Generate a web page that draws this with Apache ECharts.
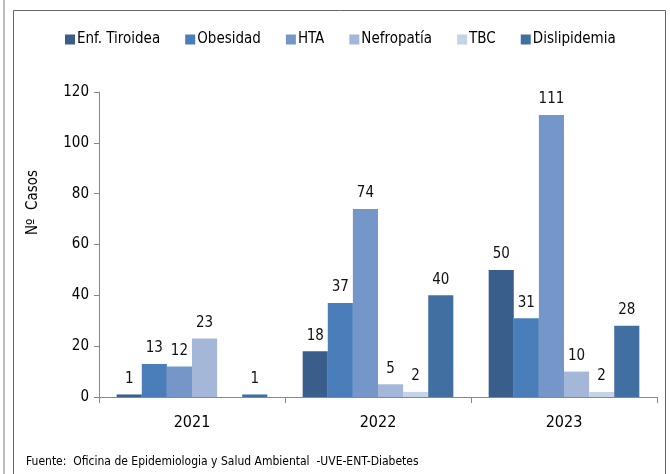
<!DOCTYPE html>
<html><head><meta charset="utf-8">
<script src="https://cdn.jsdelivr.net/npm/echarts@6/dist/echarts.min.js"></script>
<style>html,body{margin:0;padding:0;background:#fff}#c{width:670px;height:474px}</style>
</head><body><div id="c"></div>
<script>
var categories = ['2021', '2022', '2023'];
var seriesNames = ['Enf. Tiroidea', 'Obesidad', 'HTA', 'Nefropatía', 'TBC', 'Dislipidemia'];
var enfTiroidea = [1, 18, 50];
var obesidad = [13, 37, 31];
var hta = [12, 74, 111];
var nefropatia = [23, 5, 10];
var tbc = [null, 2, 2];
var dislipidemia = [1, 40, 28];
var yTicks = [0, 20, 40, 60, 80, 100, 120];
var colors = ['#3A5E8B', '#4A7EBB', '#7496C8', '#A4B7D8', '#C6D2E7', '#426FA2'];
var FONT = '"Liberation Sans Narrow", "DejaVu Sans Condensed", sans-serif';
var values = [enfTiroidea, obesidad, hta, nefropatia, tbc, dislipidemia];

var chart = echarts.init(document.getElementById('c'), null, {renderer: 'canvas'});
chart.setOption({
  animation: false,
  textStyle: {fontFamily: FONT},
  legend: {
    top: 27, left: 60,
    itemWidth: 10, itemHeight: 10, itemGap: 25,
    icon: 'rect',
    textStyle: {fontFamily: FONT, fontSize: 15, color: '#000', padding: [0, 0, 0, -3]},
    data: seriesNames
  },
  grid: {left: 99, right: 13, top: 92, bottom: 77, containLabel: false},
  xAxis: {
    type: 'category', data: categories,
    axisLine: {lineStyle: {color: '#888'}},
    axisTick: {show: true, length: 6, lineStyle: {color: '#888'}},
    axisLabel: {fontFamily: FONT, fontSize: 16, color: '#000', margin: 18}
  },
  yAxis: {
    type: 'value', min: yTicks[0], max: yTicks[yTicks.length - 1], interval: 20,
    name: 'Nº  Casos', nameLocation: 'middle', nameGap: 58, nameRotate: 90,
    nameTextStyle: {fontFamily: FONT, fontSize: 15, color: '#000', padding: [0, 0, 0, 84]},
    axisLine: {show: true, lineStyle: {color: '#888'}},
    axisTick: {show: true, length: 5, lineStyle: {color: '#888'}},
    splitLine: {show: false},
    axisLabel: {fontFamily: FONT, fontSize: 15, color: '#000', margin: 10}
  },
  series: seriesNames.map(function (n, i) {
    return {
      name: n, type: 'bar', data: values[i],
      barGap: '0%', barCategoryGap: '19%',
      itemStyle: {color: colors[i]},
      label: {show: true, position: 'top', distance: 8, fontFamily: FONT, fontSize: 15, color: '#111'}
    };
  }),
  graphic: [
    {type: 'rect', shape: {x: 3, y: 0, width: 2, height: 474}, style: {fill: '#BDBDBD'}, silent: true},
    {type: 'polyline', shape: {points: [[13.5, 480], [13.5, 10.5], [665.5, 10.5], [665.5, 480]]}, style: {stroke: '#666', lineWidth: 1, fill: null}, silent: true},
    {type: 'text', left: 26, top: 456, style: {text: 'Fuente:  Oficina de Epidemiologia y Salud Ambiental  -UVE-ENT-Diabetes', font: '12px ' + FONT, fill: '#000'}}
  ]
});
</script></body></html>
